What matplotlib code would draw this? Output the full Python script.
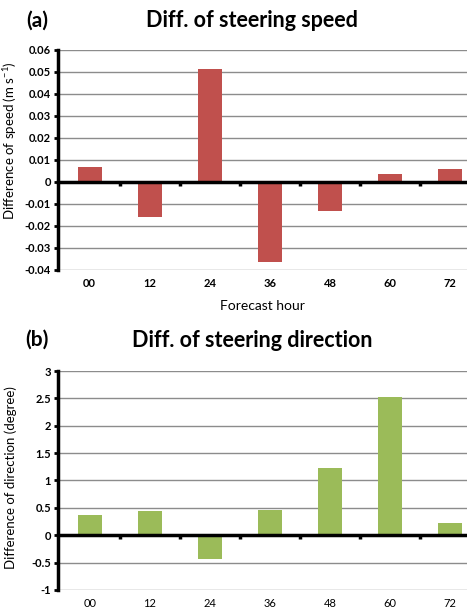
import matplotlib
matplotlib.use("Agg")
import matplotlib.pyplot as plt
import matplotlib.transforms as mtransforms
import numpy as np

hours = ["00", "12", "24", "36", "48", "60", "72"]
speed_diff = [0.007, -0.016, 0.0514, -0.0365, -0.0133, 0.0038, 0.0059]
dir_diff = [0.37, 0.45, -0.44, 0.455, 1.22, 2.53, 0.22]

plt.rcParams['font.family'] = ['Lato', 'DejaVu Sans']


def draw_panel(ax, vals, color, ylim, yticks, ytick_fmt, xbold):
    x = np.arange(len(hours))
    ax.set_xlim(-0.53, 6.28)
    ax.set_ylim(*ylim)
    ax.set_yticks(yticks)
    ax.set_yticklabels([ytick_fmt(v) for v in yticks], fontsize=8, fontweight='bold')
    ax.yaxis.grid(True, color='#8c8c8c', lw=1)
    ax.set_axisbelow(True)
    ax.bar(x, vals, width=0.4, color=color, zorder=2)
    for s in ['top', 'right']:
        ax.spines[s].set_visible(False)
    ax.spines['left'].set_linewidth(2.5)
    ax.spines['bottom'].set_position(('data', 0))
    ax.spines['bottom'].set_linewidth(2.5)
    ax.spines['bottom'].set_zorder(3)
    ax.tick_params(axis='y', length=3, width=2, pad=2)
    ax.set_xticks(x)
    ax.set_xticklabels([])
    ax.tick_params(axis='x', which='major', length=0)
    ax.set_xticks(x[:-1] + 0.5, minor=True)
    ax.tick_params(axis='x', which='minor', length=3, width=2.5, direction='out')
    trans = mtransforms.blended_transform_factory(ax.transData, ax.transAxes)
    for xi, lab in zip(x, hours):
        ax.text(xi, -0.035, lab, transform=trans, ha='center', va='top',
                fontsize=8, fontweight='bold' if xbold else 'normal')


fig = plt.figure(figsize=(4.67, 6.15), dpi=100)
ax1 = fig.add_axes([0.124, 0.561, 0.876, 0.358])
ax2 = fig.add_axes([0.124, 0.0407, 0.876, 0.356])

draw_panel(ax1, speed_diff, '#C0504D', (-0.04, 0.06),
           [-0.04, -0.03, -0.02, -0.01, 0, 0.01, 0.02, 0.03, 0.04, 0.05, 0.06],
           lambda v: '0' if v == 0 else f'{v:.2f}', True)
ax1.text(0.5, -0.135, 'Forecast hour', transform=ax1.transAxes, ha='center', va='top', fontsize=10)

draw_panel(ax2, dir_diff, '#9BBB59', (-1, 3),
           [-1, -0.5, 0, 0.5, 1, 1.5, 2, 2.5, 3],
           lambda v: f'{v:g}', False)

fig.text(0.022, 0.772, r'Difference of speed (m s$^{\mathregular{-1}}$)', rotation=90,
         ha='center', va='center', fontsize=9.5)
fig.text(0.022, 0.223, 'Difference of direction (degree)', rotation=90,
         ha='center', va='center', fontsize=9.5)

fig.text(0.54, 0.967, 'Diff. of steering speed', ha='center', va='center', fontsize=15.5, fontweight='bold')
fig.text(0.08, 0.967, '(a)', ha='center', va='center', fontsize=15, fontweight='bold')
fig.text(0.54, 0.447, 'Diff. of steering direction', ha='center', va='center', fontsize=15.5, fontweight='bold')
fig.text(0.08, 0.447, '(b)', ha='center', va='center', fontsize=15, fontweight='bold')

fig.savefig('out.png', dpi=100)
